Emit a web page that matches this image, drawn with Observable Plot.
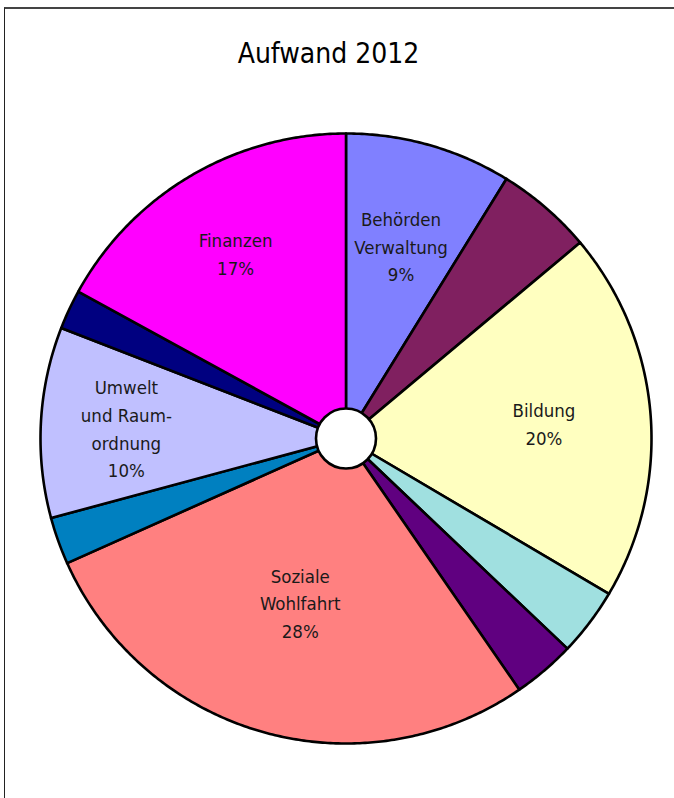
<!DOCTYPE html>
<html>
<head>
<meta charset="utf-8">
<script src="https://cdn.jsdelivr.net/npm/d3@7"></script>
<script src="https://cdn.jsdelivr.net/npm/@observablehq/plot@0.6"></script>
<style>
  html, body { margin: 0; padding: 0; background: #fff; }
  #wrap { position: relative; width: 674px; height: 798px; overflow: hidden; }
  #frame { position: absolute; left: 4px; top: 7px; right: -10px; bottom: -10px;
           border-top: 2px solid #444; border-left: 1.5px solid #222; }
  #title { position: absolute; left: 0; width: 657px; top: 37px; text-align: center;
           font-family: "Liberation Sans Narrow", "DejaVu Sans Condensed", "Arial Narrow", "Liberation Sans", sans-serif;
           font-size: 28px; color: #000; }
  #chart { position: absolute; left: 0; top: 0; }
  svg text { font-family: "Liberation Sans Narrow", "DejaVu Sans Condensed", "Arial Narrow", "Liberation Sans", sans-serif; }
</style>
</head>
<body>
<div id="wrap">
  <div id="frame"></div>
  <div id="chart"></div>
  <div id="title">Aufwand 2012</div>
</div>
<script>
// Slices clockwise from 12 o'clock
const ids = ["Behörden Verwaltung", "s2", "Bildung", "s4", "s5", "Soziale Wohlfahrt", "s7", "Umwelt und Raumordnung", "s9", "Finanzen"];
const labels = ["Behörden\nVerwaltung", null, "Bildung", null, null, "Soziale\nWohlfahrt", null, "Umwelt\nund Raum-\nordnung", null, "Finanzen"];
const values = [8.8, 5.1, 19.6, 3.6, 3.3, 27.9, 2.5, 10.1, 2.1, 17.0];
const colors = ["#8080FF", "#802060", "#FFFFC0", "#A0E0E0", "#600080", "#FF8080", "#0080C0", "#C0C0FF", "#000080", "#FF00FF"];

// layout: radial position of labels as fraction of radius
const labelRadius = {"Behörden Verwaltung": 0.66, "Bildung": 0.65, "Soziale Wohlfahrt": 0.555, "Umwelt und Raumordnung": 0.72, "Finanzen": 0.71};

const total = d3.sum(values);
let cum = 0;
const slices = ids.map((id, i) => {
  const a0 = cum / total * 2 * Math.PI;
  cum += values[i];
  const a1 = cum / total * 2 * Math.PI;
  return {id, label: labels[i], value: values[i], a0, a1};
});

const outline = [];
for (const s of slices) {
  outline.push({id: s.id, x: 0, y: 0});
  const n = Math.max(2, Math.ceil((s.a1 - s.a0) / (Math.PI / 360)));
  for (let k = 0; k <= n; k++) {
    const a = s.a0 + (s.a1 - s.a0) * k / n;
    outline.push({id: s.id, x: Math.sin(a), y: Math.cos(a)});
  }
  outline.push({id: s.id, x: 0, y: 0});
}

const textData = slices.filter(s => s.label).map(s => {
  const m = (s.a0 + s.a1) / 2;
  const r = labelRadius[s.id] ?? 0.66;
  return {x: r * Math.sin(m), y: r * Math.cos(m),
          text: s.label + "\n" + Math.round(s.value / total * 100) + "%"};
});

const chart = Plot.plot({
  width: 674,
  height: 798,
  margin: 0,
  x: {domain: [-1, 1], range: [40, 651], axis: null},
  y: {domain: [-1, 1], range: [743, 133], axis: null},
  color: {domain: ids, range: colors},
  marks: [
    Plot.line(outline, {x: "x", y: "y", z: "id", fill: "id", stroke: "#000", strokeWidth: 2.6, strokeLinejoin: "round", curve: "linear"}),
    Plot.dot([{x: 0, y: 0}], {x: "x", y: "y", r: 30, fill: "#fff", stroke: "#000", strokeWidth: 2.6}),
    Plot.text(textData, {x: "x", y: "y", text: "text", fontSize: 18.5, lineHeight: 1.5, fill: "#1a1a1a", lineAnchor: "middle", textAnchor: "middle"})
  ],
  style: {background: "transparent", overflow: "visible"}
});
document.getElementById("chart").appendChild(chart);
</script>
</body>
</html>
